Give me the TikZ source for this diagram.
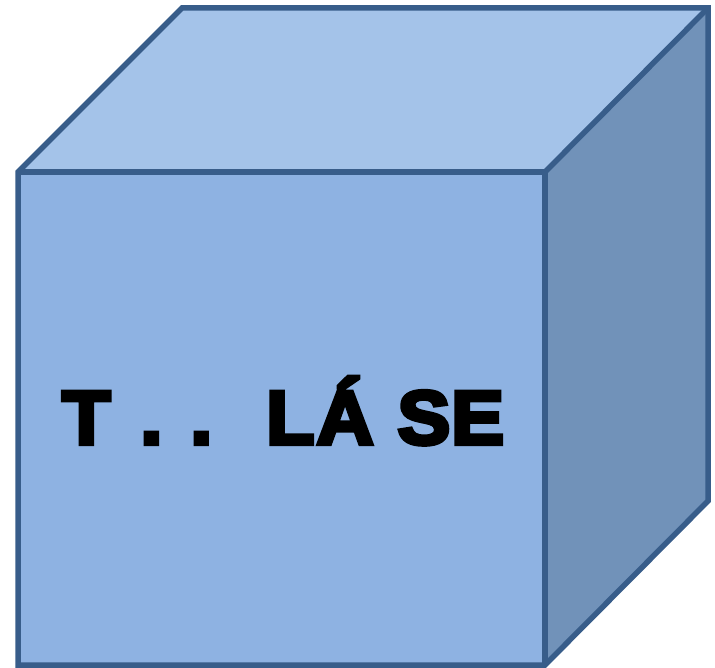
\documentclass[tikz,border=0pt]{standalone}
\usepackage{fontspec}
\setmainfont{Liberation Sans}
\newfontfamily\heavyfont[FakeBold=5.5,FakeStretch=1.04]{Liberation Sans Bold}
\definecolor{edgeblue}{HTML}{385D8A}
\definecolor{frontblue}{HTML}{8EB2E2}
\definecolor{topblue}{HTML}{A4C3E9}
\definecolor{sideblue}{HTML}{7192B9}
\tikzset{
  face/.style={draw=edgeblue,line width=5.5pt,line join=miter},
  cubelabel/.style={inner sep=0pt,font=\heavyfont\fontsize{76pt}{76pt}\selectfont,text=black,anchor=base west}
}
\begin{document}
\begin{tikzpicture}[x=1pt,y=-1pt]
\useasboundingbox (0,0) rectangle (715,668);
\coordinate (fa) at (18,172);
\coordinate (fb) at (545,172);
\coordinate (fc) at (545,665);
\coordinate (fd) at (18,665);
\coordinate (ba) at (182,8);
\coordinate (bb) at (708,8);
\coordinate (bc) at (708,501);
\fill[topblue] (fa)--(ba)--(bb)--(fb)--cycle;
\fill[sideblue] (fb)--(bb)--(bc)--(fc)--cycle;
\fill[frontblue] (fa)--(fb)--(fc)--(fd)--cycle;
\draw[face] (fa)--(ba)--(bb)--(bc)--(fc)--(fd)--cycle;
\draw[face] (fa)--(fb)--(fc);
\draw[face] (fb)--(bb);
\node[cubelabel] (label) at (62,444) {T\kern8pt\ .\kern6pt\ .\kern10pt\ \ L\kern2ptÁ\kern2pt\ S\kern1ptE};
\end{tikzpicture}
\end{document}
